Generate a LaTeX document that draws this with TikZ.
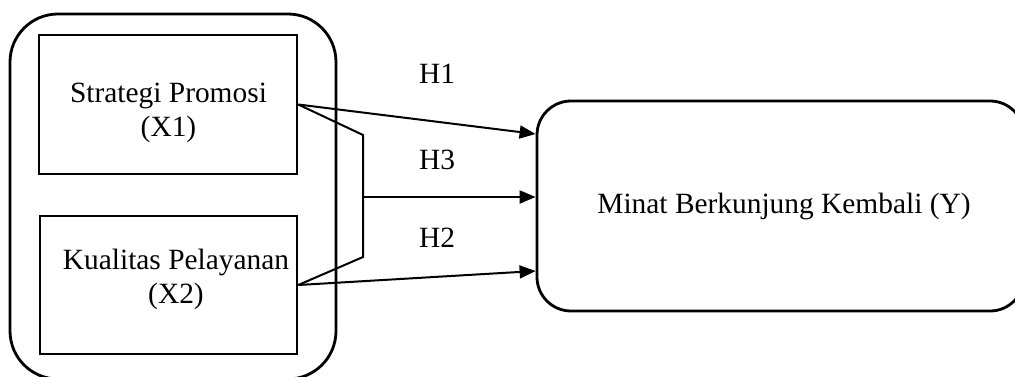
\documentclass[tikz,border=0pt]{standalone}
\usepackage{fontspec}
\setmainfont{Liberation Serif}
\usetikzlibrary{arrows.meta}
\begin{document}
\begin{tikzpicture}[x=1pt,y=-1pt,
  every node/.style={font=\fontsize{29.4}{34}\selectfont},
  boxline/.style={draw, line width=2.6pt},
  rbox/.style={draw, line width=2.8pt, rounded corners=#1},
  conn/.style={line width=2pt, line join=miter},
  arr/.style={conn, -{Triangle[length=16pt,width=13pt]}},
  txt/.style={align=center, inner sep=0pt}]
\useasboundingbox (0,0) rectangle (1015,376);
% outer group
\node[rbox=48pt, minimum width=326pt, minimum height=365pt, inner sep=0pt] (grp) at (173,196.5) {};
% inner boxes
\node[boxline, minimum width=258pt, minimum height=139pt, inner sep=0pt] (x1) at (168,104.5) {};
\node[boxline, minimum width=257pt, minimum height=138pt, inner sep=0pt] (x2) at (168.5,285) {};
\node[txt, anchor=base] (x1t) at (168.5,136) {Strategi Promosi\\(X1)};
\node[txt, anchor=base] (x2t) at (176,303) {Kualitas Pelayanan\\(X2)};
% dependent
\node[rbox=34pt, minimum width=487pt, minimum height=210pt, inner sep=0pt] (y) at (780.5,206) {};
\node[txt, anchor=base] (yt) at (784,213) {Minat Berkunjung Kembali (Y)};
% bracket
\coordinate (b1) at (363,135);
\coordinate (b2) at (363,257);
\coordinate (bm) at (363,197);
\draw[conn] (x1.east) -- (b1) -- (b2) -- (x2.east);
% arrows
\draw[arr] (x1.east) -- (y.west |- 0,134);
\draw[arr] (bm) -- (y.west |- bm);
\draw[arr] (x2.east) -- (y.west |- 0,271);
% labels
\node[txt, anchor=base] (h1) at (437,83) {H1};
\node[txt, anchor=base] (h3) at (437,169) {H3};
\node[txt, anchor=base] (h2) at (437,247) {H2};
\end{tikzpicture}
\end{document}
